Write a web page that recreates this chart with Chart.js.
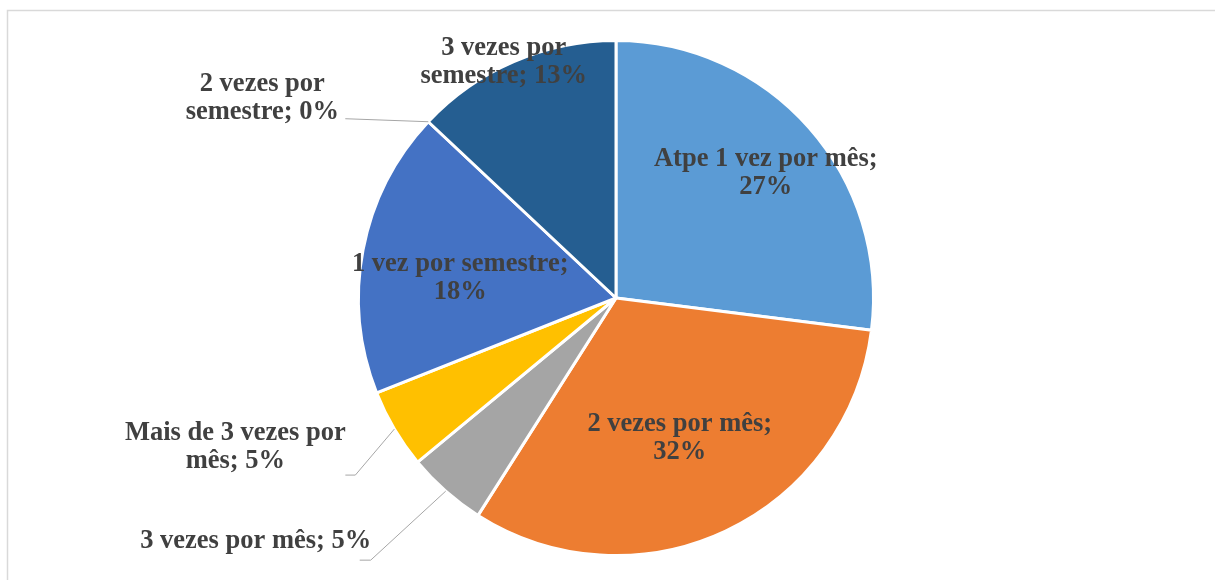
<!DOCTYPE html>
<html>
<head>
<meta charset="utf-8">
<script src="https://cdn.jsdelivr.net/npm/chart.js@4/dist/chart.umd.min.js"></script>
<style>
 body{margin:0;background:#fff;}
 canvas{display:block;}
</style>
</head>
<body>
<canvas id="grafico" width="1215" height="580"></canvas>
<script>
// frequencias e percentuais
const categorias = ["Atpe 1 vez por mês","2 vezes por mês","3 vezes por mês","Mais de 3 vezes por mês","1 vez por semestre","2 vezes por semestre","3 vezes por semestre"];
const percentuais = [27, 32, 5, 5, 18, 0, 13];
const cores = ["#5B9BD5","#ED7D31","#A5A5A5","#FFC000","#4472C4","#70AD47","#255E91"];
// quantas palavras vao na primeira linha do rotulo (0 = uma linha so)
const quebraRotulo = [5, 4, 0, 5, 4, 3, 3];

// posicao do rotulo: fator do raio + ajuste, e pontos da linha guia (relativos ao centro do rotulo)
const posRotulo = [
 {r:0.76, dx:3,    dy:5},
 {r:0.60, dx:-2,   dy:0},
 {r:1.0,  dx:-190, dy:50, guia:[[115,19],[104,19]]},
 {r:1.0,  dx:-159, dy:18, guia:[[120,28],[110,28]]},
 {r:0.62, dx:1,    dy:10},
 {r:1.0,  dx:-166, dy:-24, guia:[[83,21]]},
 {r:1.0,  dx:-10,  dy:0}
];

const FONTE = "bold 26.5px 'Liberation Serif', 'Times New Roman', serif";

function linhasRotulo(i){
 const txt = categorias[i] + "; " + percentuais[i] + "%";
 const n = quebraRotulo[i];
 if(!n) return [txt];
 const palavras = txt.split(" ");
 return [palavras.slice(0,n).join(" "), palavras.slice(n).join(" ")];
}

const moldura = {
 id:"moldura",
 beforeDraw(chart){
  const c = chart.ctx;
  c.save();
  c.strokeStyle = "#d9d9d9";
  c.lineWidth = 1.5;
  c.strokeRect(7.5, 10.5, 1400, 800);
  c.restore();
 }
};

const rotulos = {
 id:"rotulos",
 afterDatasetsDraw(chart){
  const c = chart.ctx;
  const arcos = chart.getDatasetMeta(0).data;
  c.save();
  c.font = FONTE;
  c.fillStyle = "#404040";
  c.textAlign = "center";
  c.textBaseline = "middle";
  arcos.forEach((a, i) => {
   const p = posRotulo[i];
   const meio = (a.startAngle + a.endAngle) / 2;
   const R = a.outerRadius;
   const bx = a.x + Math.cos(meio) * R;
   const by = a.y + Math.sin(meio) * R;
   const cx = a.x + Math.cos(meio) * R * p.r + p.dx;
   const cy = a.y + Math.sin(meio) * R * p.r + p.dy;
   if(p.guia){
    c.strokeStyle = "#a6a6a6";
    c.lineWidth = 1;
    c.beginPath();
    c.moveTo(bx, by);
    p.guia.forEach(g => c.lineTo(cx + g[0], cy + g[1]));
    c.stroke();
   }
   const ls = linhasRotulo(i);
   const alt = 28;
   ls.forEach((t, k) => {
    c.fillText(t, cx, cy + (k - (ls.length - 1) / 2) * alt);
   });
  });
  c.restore();
 }
};

new Chart(document.getElementById("grafico"), {
 type:"pie",
 data:{
  labels:categorias,
  datasets:[{
   data:percentuais,
   backgroundColor:cores,
   borderColor:"#ffffff",
   borderWidth:3
  }]
 },
 options:{
  responsive:false,
  animation:false,
  layout:{padding:{top:39, bottom:23, left:17, right:0}},
  plugins:{legend:{display:false}, tooltip:{enabled:false}}
 },
 plugins:[moldura, rotulos]
});
</script>
</body>
</html>
